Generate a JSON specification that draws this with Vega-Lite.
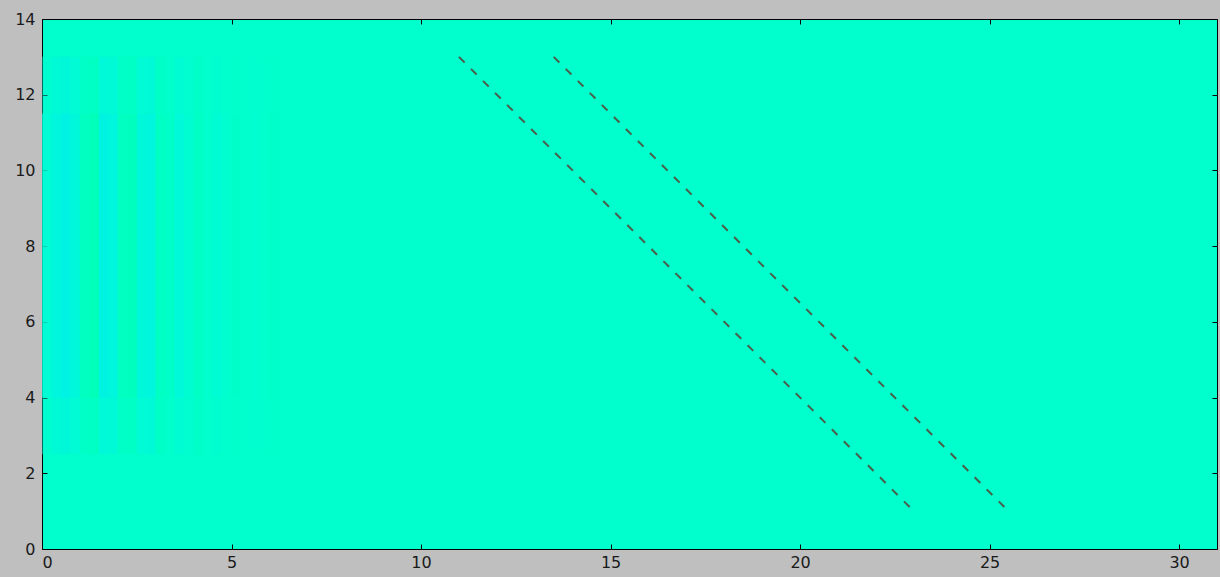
{
  "$schema": "https://vega.github.io/schema/vega-lite/v6.json",
  "autosize": {"type": "none"},
  "width": 1175,
  "height": 530,
  "padding": {"left": 42, "top": 19, "right": 3, "bottom": 28},
  "background": "#bfbfbf",
  "config": {
    "view": {"fill": "#00ffcc", "stroke": "#000000", "strokeWidth": 1},
    "font": "DejaVu Sans",
    "axis": {
      "domain": false,
      "grid": false,
      "tickSize": -5,
      "tickColor": "#000000",
      "tickWidth": 1,
      "labelFont": "DejaVu Sans",
      "labelFontSize": 16,
      "labelColor": "#1a1a1a",
      "title": null
    }
  },
  "datasets": {
    "stripes": [
      {"x": 0.0, "x2": 0.25, "v": -0.15},
      {"x": 0.25, "x2": 0.5, "v": -0.35},
      {"x": 0.5, "x2": 0.75, "v": -0.55},
      {"x": 0.75, "x2": 1.0, "v": -0.3},
      {"x": 1.0, "x2": 1.25, "v": 0.35},
      {"x": 1.25, "x2": 1.5, "v": 0.55},
      {"x": 1.5, "x2": 1.75, "v": -0.5},
      {"x": 1.75, "x2": 2.0, "v": -0.35},
      {"x": 2.0, "x2": 2.25, "v": 0.35},
      {"x": 2.25, "x2": 2.5, "v": 0.4},
      {"x": 2.5, "x2": 2.75, "v": -0.3},
      {"x": 2.75, "x2": 3.0, "v": -0.35},
      {"x": 3.0, "x2": 3.25, "v": 0.3},
      {"x": 3.25, "x2": 3.5, "v": 0.1},
      {"x": 3.5, "x2": 3.75, "v": -0.25},
      {"x": 3.75, "x2": 4.0, "v": -0.1},
      {"x": 4.0, "x2": 4.25, "v": 0.22},
      {"x": 4.25, "x2": 4.5, "v": 0.0},
      {"x": 4.5, "x2": 4.75, "v": -0.15},
      {"x": 4.75, "x2": 5.0, "v": -0.05},
      {"x": 5.0, "x2": 5.25, "v": 0.14},
      {"x": 5.25, "x2": 5.5, "v": 0.0},
      {"x": 5.5, "x2": 5.75, "v": -0.08},
      {"x": 5.75, "x2": 6.0, "v": 0.0},
      {"x": 6.0, "x2": 6.25, "v": 0.1},
      {"x": 6.25, "x2": 6.5, "v": 0.0}
    ],
    "lines": [
      {"series": "A", "x": 11, "y": 13},
      {"series": "A", "x": 23, "y": 1},
      {"series": "B", "x": 13.5, "y": 13},
      {"series": "B", "x": 25.5, "y": 1}
    ]
  },
  "layer": [
    {
      "data": {"name": "stripes"},
      "mark": {"type": "rect", "opacity": 0.45, "y": {"expr": "scale('y', 13)"}, "y2": {"expr": "scale('y', 2.5)"}},
      "encoding": {
        "x": {"field": "x", "type": "quantitative", "scale": {"domain": [0, 31], "nice": false}, "axis": null},
        "x2": {"field": "x2"},
        "color": {"field": "v", "type": "quantitative",
                  "scale": {"domain": [-1, 0, 1], "range": ["#00e0f4", "#00ffcc", "#00ffa0"]},
                  "legend": null}
      }
    },
    {
      "data": {"name": "stripes"},
      "mark": {"type": "rect", "opacity": 0.7, "y": {"expr": "scale('y', 11.5)"}, "y2": {"expr": "scale('y', 4)"}},
      "encoding": {
        "x": {"field": "x", "type": "quantitative", "scale": {"domain": [0, 31], "nice": false}, "axis": null},
        "x2": {"field": "x2"},
        "color": {"field": "v", "type": "quantitative",
                  "scale": {"domain": [-1, 0, 1], "range": ["#00e0f4", "#00ffcc", "#00ffa0"]},
                  "legend": null}
      }
    },
    {
      "data": {"name": "lines"},
      "mark": {"type": "line", "strokeDash": [8, 9], "strokeWidth": 2, "color": "#4a5e4a"},
      "encoding": {
        "x": {"field": "x", "type": "quantitative", "scale": {"domain": [0, 31], "nice": false},
              "axis": {"values": [0, 5, 10, 15, 20, 25, 30], "labelPadding": 10}},
        "y": {"field": "y", "type": "quantitative", "scale": {"domain": [0, 14], "nice": false},
              "axis": {"values": [0, 2, 4, 6, 8, 10, 12, 14], "labelPadding": 12}},
        "detail": {"field": "series"}
      }
    },
    {
      "data": {"name": "lines"},
      "mark": {"type": "point", "opacity": 0},
      "encoding": {
        "x": {"field": "x", "type": "quantitative", "scale": {"domain": [0, 31], "nice": false},
              "axis": {"orient": "top", "labels": false, "values": [0, 5, 10, 15, 20, 25, 30]}},
        "y": {"field": "y", "type": "quantitative", "scale": {"domain": [0, 14], "nice": false},
              "axis": {"orient": "right", "labels": false, "values": [0, 2, 4, 6, 8, 10, 12, 14]}}
      }
    }
  ],
  "resolve": {"axis": {"x": "independent", "y": "independent"}}
}
